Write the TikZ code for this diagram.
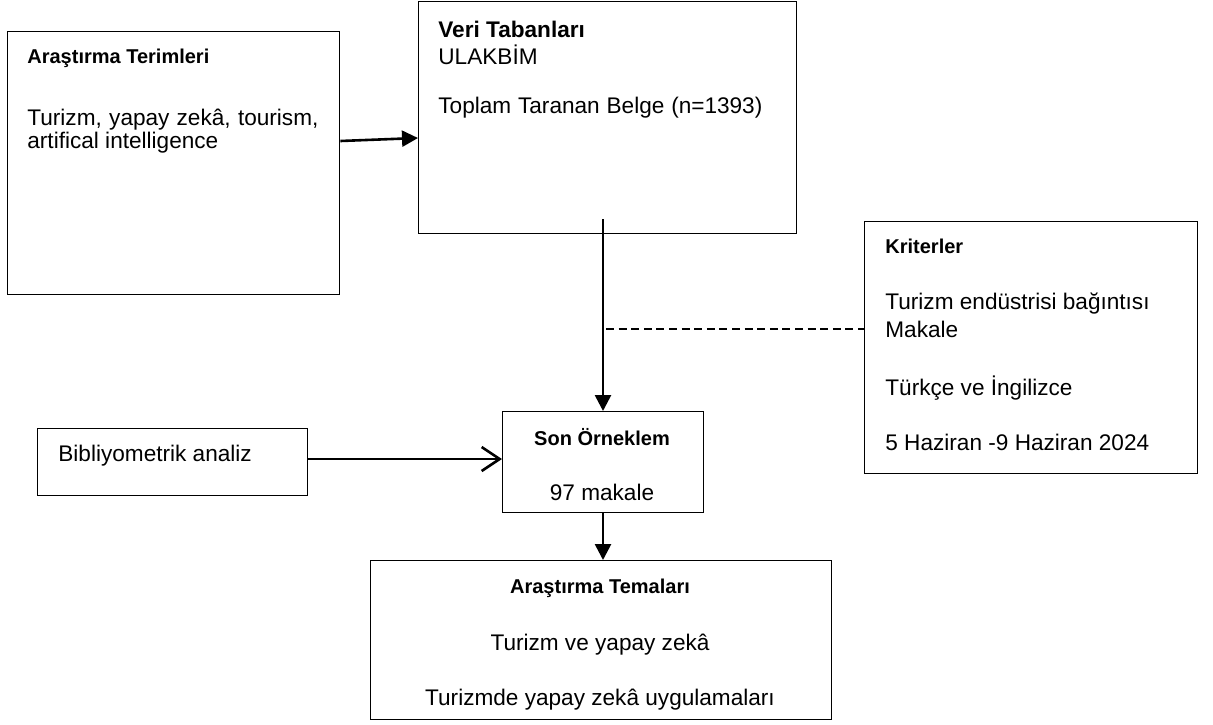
\documentclass[tikz,border=0pt]{standalone}
\usepackage{fontspec}
\setmainfont{Liberation Sans}
\usetikzlibrary{arrows.meta}

\begin{document}
\begin{tikzpicture}[x=0.5pt, y=-0.5pt, font=\fontsize{11.3}{11.5}\selectfont,
  box/.style={draw, line width=0.65pt, anchor=north west, inner sep=0pt},
  txt/.style={anchor=base west, inner sep=0pt},
  ctxt/.style={anchor=base, inner sep=0pt},
  head/.style={font=\fontsize{10}{11}\selectfont\bfseries},
  arr/.style={line width=1.3pt, -{Triangle[length=8pt, width=8pt]}},
  openarr/.style={line width=1.3pt, -{Straight Barb[length=9pt, width=12pt]}}]
  \useasboundingbox (0,0) rectangle (1213,724);
  % 方框
  \node[box, minimum width=166pt, minimum height=131.5pt] (terms) at (7,31) {};
  \node[box, minimum width=189pt, minimum height=116pt] (db) at (418,1) {};
  \node[box, minimum width=166.5pt, minimum height=126pt] (crit) at (864,221) {};
  \node[box, minimum width=100.5pt, minimum height=50.5pt] (sample) at (502,411) {};
  \node[box, minimum width=135pt, minimum height=33.5pt] (biblio) at (37,428) {};
  \node[box, minimum width=230.5pt, minimum height=79.5pt] (themes) at (370,560) {};
  % 文字：Araştırma Terimleri
  \node[txt, head] (termsHead) at (27,63) {Araştırma Terimleri};
  \node[txt] (termsA) at (27,125) {\makebox[145.5pt][s]{Turizm, yapay zekâ, tourism,}};
  \node[txt] (termsB) at (27,148) {artifical intelligence};
  % 文字：Veri Tabanları
  \node[txt, font=\fontsize{11.3}{11.5}\selectfont\bfseries] (dbHead) at (438,37) {Veri Tabanları};
  \node[txt] (dbA) at (438,64) {ULAKBİM};
  \node[txt] (dbB) at (438,113) {\makebox[162pt][s]{Toplam Taranan Belge (n=1393)}};
  % 文字：Kriterler
  \node[txt, head] (critHead) at (885,253) {Kriterler};
  \node[txt] (critA) at (885,309) {Turizm endüstrisi bağıntısı};
  \node[txt] (critB) at (885,337) {Makale};
  \node[txt] (critC) at (885,395) {Türkçe ve İngilizce};
  \node[txt] (critD) at (885,450) {5 Haziran -9 Haziran 2024};
  % 文字：Son Örneklem, Bibliyometrik, Temalar
  \node[ctxt, head] (sampleHead) at (602,445) {Son Örneklem};
  \node[ctxt] (sampleA) at (602,500) {97 makale};
  \node[txt] (biblioA) at (58,461) {Bibliyometrik analiz};
  \node[ctxt, head] (themesHead) at (600,593) {Araştırma Temaları};
  \node[ctxt] (themesA) at (600,650) {Turizm ve yapay zekâ};
  \node[ctxt] (themesB) at (600,705) {Turizmde yapay zekâ uygulamaları};
  % 箭头
  \coordinate (t1) at (339,141);
  \coordinate (d1) at (418,138);
  \coordinate (dbIn) at (603,219);
  \coordinate (dash1) at (606,329);
  \coordinate (b1) at (305,459);
  \draw[arr] (terms.east |- t1) -- (db.west |- d1);
  \draw[arr] (dbIn) -- (dbIn |- sample.north);
  \draw[line width=0.6pt, dash pattern=on 4pt off 2.3pt] (dash1) -- (crit.west |- dash1);
  \draw[openarr] (biblio.east |- b1) -- (sample.west |- b1);
  \draw[arr] (sample.south -| dbIn) -- (themes.north -| dbIn);
\end{tikzpicture}
\end{document}
